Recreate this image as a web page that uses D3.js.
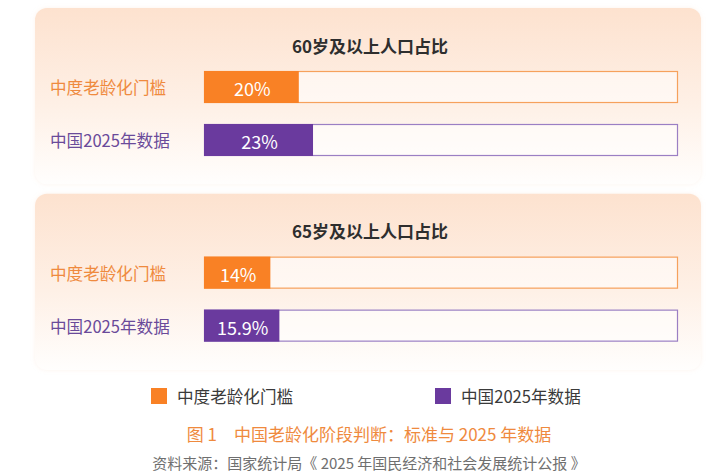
<!DOCTYPE html>
<html>
<head>
<meta charset="utf-8">
<script src="https://cdn.jsdelivr.net/npm/d3@7"></script>
<style>
  html, body { margin: 0; padding: 0; background: #ffffff; }
  svg { display: block; font-family: "Noto Sans CJK SC", "Noto Sans", sans-serif; }
</style>
</head>
<body>
<svg id="chart" width="725" height="475"></svg>
<script>
// ---- Data ----
const groups = ["60岁及以上人口占比", "65岁及以上人口占比"];
const series = ["中度老龄化门槛", "中国2025年数据"];
const thresholdValues = [20, 14];
const chinaValues = [23, 15.9];
const valueLabels = [["20%", "23%"], ["14%", "15.9%"]];
const caption = "图 1\u3000中国老龄化阶段判断：标准与 2025 年数据";
const source = "资料来源：国家统计局《 2025 年国民经济和社会发展统计公报 》";

// ---- Styles ----
const fillColors = ["#f98125", "#6a3a9e"];
const strokeColors = ["#f6a15c", "#9b7fc4"];
const labelColors = ["#ef8a3e", "#6a4a9a"];

const svg = d3.select("#chart");

const defs = svg.append("defs");
const grad = defs.append("linearGradient").attr("id", "panelGrad")
  .attr("x1", 0).attr("y1", 0).attr("x2", 0).attr("y2", 1);
grad.append("stop").attr("offset", "0%").attr("stop-color", "#fde2cf");
grad.append("stop").attr("offset", "55%").attr("stop-color", "#fef0e6");
grad.append("stop").attr("offset", "100%").attr("stop-color", "#fffefd");
const shadow = defs.append("filter").attr("id", "shadow")
  .attr("x", "-5%").attr("y", "-10%").attr("width", "110%").attr("height", "120%");
shadow.append("feDropShadow").attr("dx", 0).attr("dy", 0).attr("stdDeviation", 2)
  .attr("flood-color", "#f5cfb2").attr("flood-opacity", 0.25);

// ---- Scales ----
const x = d3.scaleLinear().domain([0, 100]).range([204, 678]);
const panelY = d3.scaleBand().domain(groups).range([8, 370]).paddingInner(0.05);
const rowY = d3.scaleBand().domain(series).range([63, 148]).paddingInner(0.396);

const panels = svg.selectAll("g.panel").data(groups).join("g")
  .attr("class", "panel")
  .attr("transform", d => `translate(0,${panelY(d)})`);

panels.append("rect")
  .attr("x", 35).attr("y", 0)
  .attr("width", 666).attr("height", panelY.bandwidth())
  .attr("rx", 12).attr("ry", 12)
  .attr("fill", "url(#panelGrad)")
  .attr("filter", "url(#shadow)");

panels.append("text")
  .attr("x", 370).attr("y", 37)
  .attr("text-anchor", "middle").attr("dominant-baseline", "central")
  .attr("font-size", 17).attr("font-weight", "bold").attr("fill", "#2e2e2e")
  .text(d => d);

panels.each(function(g, gi) {
  const p = d3.select(this);
  const vals = [thresholdValues[gi], chinaValues[gi]];
  series.forEach((s, si) => {
    const y0 = rowY(s);
    const h = rowY.bandwidth();
    p.append("text")
      .attr("x", 50).attr("y", y0 + h / 2)
      .attr("dominant-baseline", "central")
      .attr("font-size", 16.6).attr("fill", labelColors[si])
      .text(s);
    p.append("rect")
      .attr("x", x(0) + 0.5).attr("y", y0 + 0.5)
      .attr("width", x(100) - x(0) - 1).attr("height", h - 1)
      .attr("fill", "#ffffff").attr("fill-opacity", 0.55)
      .attr("stroke", strokeColors[si]).attr("stroke-width", 1.2);
    p.append("rect")
      .attr("x", x(0)).attr("y", y0)
      .attr("width", x(vals[si]) - x(0)).attr("height", h)
      .attr("fill", fillColors[si]);
    p.append("text")
      .attr("x", (x(0) + x(vals[si])) / 2 + 1).attr("y", y0 + h / 2 + 1)
      .attr("text-anchor", "middle").attr("dominant-baseline", "central")
      .attr("font-size", 18).attr("fill", "#ffffff")
      .text(valueLabels[gi][si]);
  });
});

// ---- Legend ----
const legendX = [151, 435];
const legend = svg.selectAll("g.legend").data(series).join("g")
  .attr("class", "legend")
  .attr("transform", (d, i) => `translate(${legendX[i]},388)`);
legend.append("rect").attr("width", 16).attr("height", 16)
  .attr("fill", (d, i) => fillColors[i]);
legend.append("text").attr("x", 26).attr("y", 8)
  .attr("dominant-baseline", "central")
  .attr("font-size", 16.6).attr("fill", "#3a3a3a")
  .text(d => d);

// ---- Caption & source ----
svg.append("text").attr("x", 369).attr("y", 433)
  .attr("text-anchor", "middle").attr("dominant-baseline", "central")
  .attr("font-size", 17).attr("fill", "#ef8a3e")
  .text(caption);
svg.append("text").attr("x", 369).attr("y", 462)
  .attr("text-anchor", "middle").attr("dominant-baseline", "central")
  .attr("font-size", 15).attr("fill", "#6f6f6f")
  .text(source);
</script>
</body>
</html>
